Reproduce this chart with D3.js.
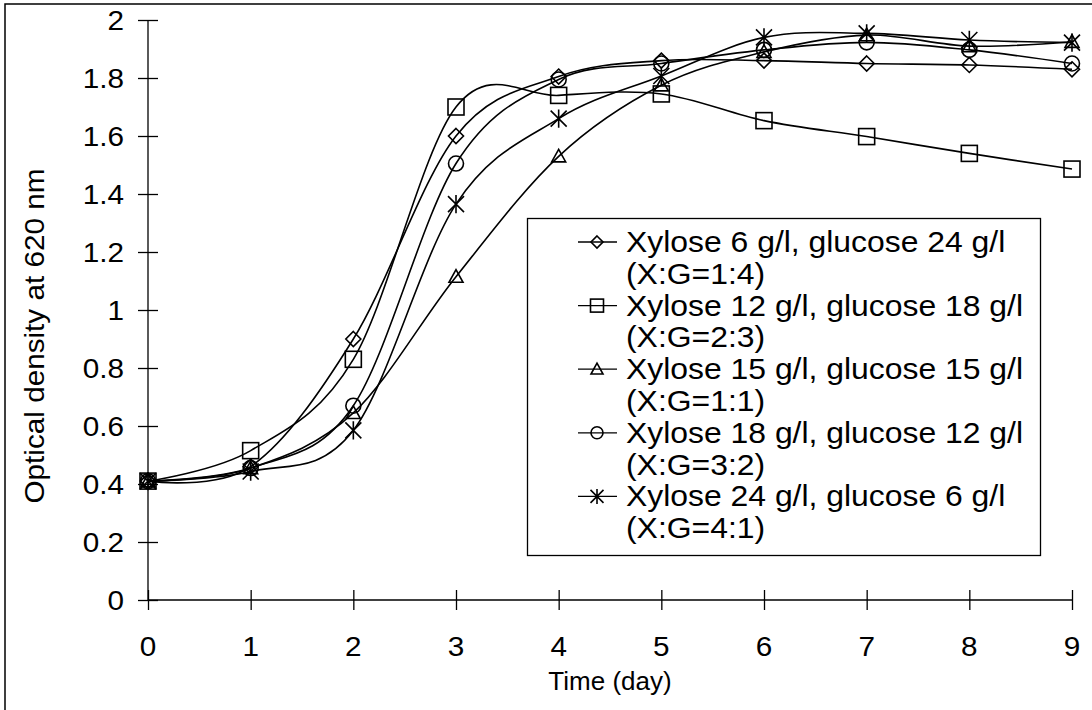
<!DOCTYPE html>
<html><head><meta charset="utf-8">
<script src="https://cdn.jsdelivr.net/npm/d3@7"></script>
<style>body{margin:0;background:#fff}svg{display:block}text{font-family:"Liberation Sans",Arial,sans-serif;fill:#000}</style>
</head><body><svg id="c" width="1092" height="710"></svg>
<script>
const days = [0,1,2,3,4,5,6,7,8,9];
const yTicks = [0,0.2,0.4,0.6,0.8,1,1.2,1.4,1.6,1.8,2];
const xTicks = [0,1,2,3,4,5,6,7,8,9];
const seriesNames = [
  ["Xylose 6 g/l, glucose 24 g/l","(X:G=1:4)"],
  ["Xylose 12 g/l, glucose 18 g/l","(X:G=2:3)"],
  ["Xylose 15 g/l, glucose 15 g/l","(X:G=1:1)"],
  ["Xylose 18 g/l, glucose 12 g/l","(X:G=3:2)"],
  ["Xylose 24 g/l, glucose 6 g/l","(X:G=4:1)"]
];
const markerTypes = ["diamond","square","triangle","circle","star"];
const xg14 = [0.41,0.46,0.90,1.60,1.805,1.86,1.86,1.85,1.845,1.83];
const xg23 = [0.41,0.515,0.83,1.70,1.74,1.745,1.653,1.598,1.54,1.486];
const xg11 = [0.41,0.455,0.645,1.115,1.53,1.775,1.89,1.948,1.91,1.925];
const xg32 = [0.41,0.455,0.67,1.505,1.795,1.85,1.897,1.923,1.897,1.85];
const xg41 = [0.41,0.443,0.585,1.365,1.66,1.807,1.94,1.954,1.931,1.922];
const seriesValues = [xg14,xg23,xg11,xg32,xg41];

const svg = d3.select("#c");
const x = d3.scaleLinear().domain([0,9]).range([148,1072]);
const y = d3.scaleLinear().domain([0,2]).range([600,20]);
const SX = 1.1;

svg.append("rect").attr("x",5).attr("y",4).attr("width",1100).attr("height",720)
  .attr("fill","none").attr("stroke","#000").attr("stroke-width",1.5);

const yAxis = d3.axisLeft(y).tickValues(yTicks).tickSize(10).tickFormat(()=>"");
const gy = svg.append("g").attr("transform","translate(148,0)").call(yAxis);
gy.selectAll(".tick line").attr("x2",-10).attr("x1",10);
const xAxis = d3.axisBottom(x).tickValues(xTicks).tickSize(10).tickFormat(()=>"");
const gx = svg.append("g").attr("transform","translate(0,600)").call(xAxis);
gx.selectAll(".tick line").attr("y1",-10).attr("y2",10);
[gy,gx].forEach(g=>{g.select(".domain").attr("stroke","#000").attr("stroke-width",1.3);
  g.selectAll(".tick line").attr("stroke","#000").attr("stroke-width",1.3);});
gy.select(".domain").attr("d","M0,20V600");
gx.select(".domain").attr("d","M148,0H1072");

function stext(px,py,str,size,anchor,rot,sx){
  const s = sx===undefined?SX:sx;
  return svg.append("text")
    .attr("transform",`translate(${px},${py})`+(rot?` rotate(${rot})`:"")+` scale(${s},1)`)
    .attr("text-anchor",anchor).attr("font-size",size).text(str);
}
yTicks.forEach(v=>stext(124, y(v)+10, d3.format("")(+v.toFixed(1)), 27, "end"));
xTicks.forEach(v=>stext(x(v), 656, String(v), 27, "middle"));
stext(610, 690, "Time (day)", 26, "middle", 0, 1.0);
stext(44, 336, "Optical density at 620 nm", 27, "middle", -90);

const line = d3.line().x((d,i)=>x(days[i])).y(d=>y(d)).curve(d3.curveCardinal.tension(0));
const plot = svg.append("g");
seriesValues.forEach(vals=>{
  plot.append("path").attr("d",line(vals)).attr("fill","none").attr("stroke","#000").attr("stroke-width",1.6);
});

function marker(g,type,cx,cy,s){
  let el;
  if(type==="square") el=g.append("rect").attr("x",cx-s).attr("y",cy-s).attr("width",2*s).attr("height",2*s);
  else if(type==="diamond") el=g.append("path").attr("d",`M${cx},${cy-s}L${cx+s},${cy}L${cx},${cy+s}L${cx-s},${cy}Z`);
  else if(type==="triangle") el=g.append("path").attr("d",`M${cx},${cy-s}L${cx+s},${cy+s*0.8}L${cx-s},${cy+s*0.8}Z`);
  else if(type==="circle") el=g.append("circle").attr("cx",cx).attr("cy",cy).attr("r",s);
  else el=g.append("path").attr("d",`M${cx-s},${cy-s}L${cx+s},${cy+s}M${cx-s},${cy+s}L${cx+s},${cy-s}M${cx},${cy-s*1.15}V${cy+s*1.15}`);
  el.attr("fill","none").attr("stroke","#000").attr("stroke-width",1.6);
}
const msize = {square:8,diamond:7.5,triangle:7,circle:7.5,star:8};
seriesValues.forEach((vals,si)=>{
  vals.forEach((v,i)=>marker(plot,markerTypes[si],x(days[i]),y(v),msize[markerTypes[si]]));
});

const lg = svg.append("g");
lg.append("rect").attr("x",527.5).attr("y",218.5).attr("width",513).attr("height",337)
  .attr("fill","#fff").attr("stroke","#000").attr("stroke-width",1.3);
const lsize = {square:6.5,diamond:6,triangle:6,circle:6,star:6.5};
const LS = 31.8;
seriesNames.forEach((nm,i)=>{
  const by = 252 + i*2*LS;
  lg.append("line").attr("x1",578).attr("x2",617).attr("y1",by-10).attr("y2",by-10).attr("stroke","#000").attr("stroke-width",1.3);
  marker(lg,markerTypes[i],597,by-10,lsize[markerTypes[i]]);
  stext(626, by, nm[0], 29, "start");
  stext(626, by+LS, nm[1], 29, "start");
});
</script></body></html>
